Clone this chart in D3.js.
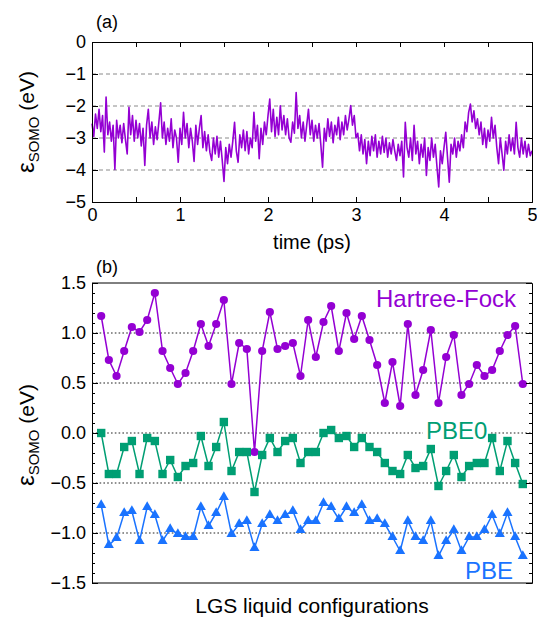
<!DOCTYPE html>
<html>
<head>
<meta charset="utf-8">
<script src="https://cdn.jsdelivr.net/npm/d3@7"></script>
<style>
  body { margin: 0; background: #fff; }
  text { font-family: "Liberation Sans", Arial, Helvetica, sans-serif; }
</style>
</head>
<body>
<svg id="chart" width="537" height="618"></svg>
<script>
// ---- Panel (a): SOMO energy along the MD trajectory (eV), sampled every 0.02 ps ----
const timeStep = 0.02;
const somoTrace = [
  -2.55, -2.95, -2.25, -2.70, -2.10, -2.80, -2.30, -3.44, -1.72, -2.90,
  -2.50, -3.10, -2.60, -3.98, -2.45, -3.00, -2.60, -3.15, -2.55, -3.05,
  -3.50, -2.04, -2.90, -2.30, -3.10, -2.45, -3.00, -2.55, -3.25, -2.70,
  -3.86, -2.60, -2.10, -3.00, -2.50, -3.20, -2.65, -3.05, -2.50, -1.90,
  -3.00, -2.50, -3.20, -2.70, -3.10, -2.40, -3.30, -2.75, -3.00, -3.76,
  -2.70, -3.20, -2.20, -3.00, -2.55, -3.30, -2.70, -3.10, -3.73, -2.60,
  -3.20, -2.70, -2.30, -3.30, -2.80, -3.40, -2.90, -3.45, -3.70, -3.00,
  -3.50, -2.95, -3.60, -3.10, -3.70, -4.36, -3.30, -3.80, -3.20, -3.60,
  -3.10, -2.51, -3.40, -3.76, -2.90, -3.30, -2.75, -3.40, -2.80, -3.50,
  -3.00, -3.30, -2.20, -3.10, -2.60, -3.65, -2.70, -3.20, -2.50, -2.90,
  -2.30, -1.78, -2.80, -2.10, -2.95, -2.35, -2.90, -1.99, -2.75, -2.30,
  -2.90, -2.40, -3.00, -3.13, -2.50, -2.85, -1.58, -2.70, -2.30, -3.00,
  -2.50, -3.10, -2.60, -2.10, -2.90, -2.45, -3.10, -2.60, -3.00, -2.55,
  -3.20, -3.91, -2.70, -3.10, -2.40, -2.95, -2.50, -3.15, -2.60, -2.90,
  -2.35, -3.05, -2.50, -2.90, -2.30, -2.75, -2.40, -1.99, -2.60, -2.30,
  -3.00, -2.85, -3.40, -2.90, -3.50, -3.05, -3.80, -3.10, -3.55, -2.95,
  -3.40, -2.90, -3.60, -3.10, -3.50, -2.95, -3.45, -3.00, -3.60, -3.15,
  -3.50, -3.05, -3.40, -3.70, -3.20, -3.55, -3.10, -4.22, -2.51, -3.30,
  -3.60, -3.00, -3.70, -2.60, -3.50, -3.10, -3.80, -3.20, -3.60, -3.00,
  -4.17, -3.30, -3.70, -3.00, -3.60, -3.20, -3.90, -4.53, -3.40, -3.80,
  -3.30, -2.82, -3.60, -4.38, -3.20, -3.50, -3.00, -3.60, -3.10, -3.40,
  -2.90, -3.30, -2.50, -2.80, -2.20, -1.94, -2.50, -2.15, -2.70, -2.40,
  -2.90, -2.50, -3.20, -2.70, -3.30, -2.75, -3.10, -2.35, -3.00, -2.60,
  -3.30, -3.80, -3.00, -3.50, -4.01, -3.10, -3.50, -2.90, -3.40, -3.00,
  -3.50, -2.51, -3.30, -3.60, -3.00, -3.50, -3.10, -3.60, -3.20, -3.55,
  -3.40
];
const timeTicks = [0, 1, 2, 3, 4, 5];
const energyTicksA = [0, -1, -2, -3, -4, -5];
const gridLinesA = [-1, -2, -3, -4];

// ---- Panel (b): SOMO energy of 56 liquid configurations, three functionals (eV) ----
const hartreeFock = [
  1.17, 0.73, 0.57, 0.82, 1.06, 1.01, 1.13, 1.40, 0.82, 0.65,
  0.49, 0.60, 0.82, 1.09, 0.87, 1.09, 1.33, 0.49, 0.90, 0.84,
  -0.19, 0.82, 1.21, 0.84, 0.87, 0.90, 0.57, 1.13, 0.76, 1.11,
  1.27, 0.82, 1.20, 0.94, 1.17, 0.93, 0.68, 0.30, 0.71, 0.27,
  1.09, 0.38, 0.63, 1.03, 0.30, 0.76, 0.98, 0.38, 0.49, 0.68,
  0.57, 0.63, 0.82, 0.98, 1.07, 0.49
];
const pbe0 = [
  0.00, -0.41, -0.41, -0.14, -0.08, -0.41, -0.05, -0.08, -0.41, -0.27,
  -0.44, -0.33, -0.30, -0.03, -0.33, -0.14, 0.11, -0.38, -0.19, -0.19,
  -0.59, -0.22, -0.05, -0.19, -0.08, -0.05, -0.30, -0.19, -0.19, 0.00,
  0.03, -0.05, -0.03, -0.14, -0.05, -0.14, -0.19, -0.30, -0.38, -0.41,
  -0.22, -0.35, -0.33, -0.16, -0.53, -0.38, -0.22, -0.44, -0.33, -0.30,
  -0.30, -0.05, -0.38, -0.08, -0.30, -0.51
];
const pbe = [
  -0.72, -1.12, -1.05, -0.80, -0.78, -1.08, -0.74, -0.82, -1.08, -0.96,
  -1.01, -1.04, -1.04, -0.74, -0.93, -0.80, -0.64, -1.01, -0.91, -0.88,
  -1.15, -0.91, -0.82, -0.88, -0.82, -0.78, -0.97, -0.88, -0.88, -0.70,
  -0.74, -0.86, -0.74, -0.80, -0.72, -0.88, -0.86, -0.91, -1.04, -1.18,
  -0.88, -1.04, -1.08, -0.88, -1.23, -1.08, -0.97, -1.18, -1.04, -1.04,
  -0.97, -0.82, -1.01, -0.80, -1.04, -1.23
];
const energyTicksB = [1.5, 1.0, 0.5, 0.0, -0.5, -1.0, -1.5];
const gridLinesB = [1.0, 0.5, 0.0, -0.5, -1.0];

const colors = { hf: "#9400d3", pbe0: "#009e73", pbe: "#1a73ff" };

const svg = d3.select("#chart");

// ================= Panel (a) =================
const ax = { left: 92, right: 532, top: 42, bottom: 202 };
const xA = d3.scaleLinear().domain([0, 5]).range([ax.left, ax.right]);
const yA = d3.scaleLinear().domain([0, -5]).range([ax.top, ax.bottom]);

const gA = svg.append("g");

gA.selectAll("line.grid").data(gridLinesA).join("line")
  .attr("x1", ax.left).attr("x2", ax.right)
  .attr("y1", d => yA(d)).attr("y2", d => yA(d))
  .attr("stroke", "#8a8a8a").attr("stroke-width", 1)
  .attr("stroke-dasharray", "4,3");

gA.append("path")
  .datum(somoTrace)
  .attr("fill", "none")
  .attr("stroke", colors.hf)
  .attr("stroke-width", 1.6)
  .attr("stroke-linejoin", "round")
  .attr("d", d3.line().x((d, i) => xA(i * timeStep)).y(d => yA(d)));

// signed integers with a proper minus sign
const fmtA = d => (d < 0 ? "\u2212" : "") + Math.abs(d);
gA.append("g").attr("transform", `translate(0,${ax.bottom})`)
  .call(d3.axisBottom(xA).tickValues(d3.range(0, 5.01, 0.5)).tickSize(-5).tickPadding(6)
        .tickFormat(d => Number.isInteger(d) ? String(d) : ""));
gA.append("g").attr("transform", `translate(0,${ax.top})`)
  .call(d3.axisTop(xA).tickValues(d3.range(0, 5.01, 0.5)).tickSize(-5).tickFormat(""));
gA.append("g").attr("transform", `translate(${ax.left},0)`)
  .call(d3.axisLeft(yA).tickValues(energyTicksA).tickSize(-6).tickPadding(6).tickFormat(fmtA));
gA.append("g").attr("transform", `translate(${ax.right},0)`)
  .call(d3.axisRight(yA).tickValues(energyTicksA).tickSize(-6).tickFormat(""));

gA.append("text").attr("x", 96).attr("y", 28).attr("font-size", 18).text("(a)");
gA.append("text").attr("x", (ax.left + ax.right) / 2).attr("y", 249)
  .attr("text-anchor", "middle").attr("font-size", 20).text("time (ps)");

// ================= Panel (b) =================
const bx = { left: 92, right: 532, top: 283, bottom: 583 };
const xB = d3.scaleLinear().domain([-1.2, 56.2]).range([bx.left, bx.right]);
const yB = d3.scaleLinear().domain([1.5, -1.5]).range([bx.top, bx.bottom]);

const gB = svg.append("g");

gB.selectAll("line.grid").data(gridLinesB).join("line")
  .attr("x1", bx.left).attr("x2", bx.right)
  .attr("y1", d => yB(d)).attr("y2", d => yB(d))
  .attr("stroke", "#222").attr("stroke-width", 1.1)
  .attr("stroke-dasharray", "1.6,2.2");

// label backdrop for PBE0 sits above the grid, below the data
const pbe0Backdrop = gB.append("rect").attr("fill", "#fff");

const lineB = d3.line().x((d, i) => xB(i)).y(d => yB(d));

function drawSeries(values, color) {
  gB.append("path").datum(values)
    .attr("fill", "none").attr("stroke", color).attr("stroke-width", 1.5)
    .attr("d", lineB);
}
drawSeries(hartreeFock, colors.hf);
drawSeries(pbe0, colors.pbe0);
drawSeries(pbe, colors.pbe);

gB.selectAll("circle.hf").data(hartreeFock).join("circle")
  .attr("cx", (d, i) => xB(i)).attr("cy", d => yB(d)).attr("r", 4.1)
  .attr("fill", colors.hf);
gB.selectAll("rect.pbe0").data(pbe0).join("rect")
  .attr("x", (d, i) => xB(i) - 4.2).attr("y", d => yB(d) - 4.2)
  .attr("width", 8.4).attr("height", 8.4)
  .attr("fill", colors.pbe0);
const tri = d3.symbol().type(d3.symbolTriangle).size(44);
gB.selectAll("path.pbe").data(pbe).join("path")
  .attr("transform", (d, i) => `translate(${xB(i)},${yB(d)})`)
  .attr("d", tri).attr("fill", colors.pbe);

// axes: minor ticks every 0.1, labelled major ticks every 0.5
const minorB = d3.range(-15, 16).map(v => v / 10).filter(v => !energyTicksB.includes(v));
const fmtB = d => (d < 0 ? "\u2212" : "") + Math.abs(d).toFixed(1);
gB.append("g").attr("transform", `translate(${bx.left},0)`)
  .call(d3.axisLeft(yB).tickValues(minorB).tickSize(-3).tickFormat(""))
  .call(g => g.select(".domain").remove());
gB.append("g").attr("transform", `translate(${bx.right},0)`)
  .call(d3.axisRight(yB).tickValues(minorB).tickSize(-3).tickFormat(""))
  .call(g => g.select(".domain").remove());
gB.append("g").attr("transform", `translate(${bx.left},0)`)
  .call(d3.axisLeft(yB).tickValues(energyTicksB).tickSize(-6).tickPadding(6).tickFormat(fmtB));
gB.append("g").attr("transform", `translate(${bx.right},0)`)
  .call(d3.axisRight(yB).tickValues(energyTicksB).tickSize(-6).tickFormat(""));
gB.append("line").attr("x1", bx.left).attr("x2", bx.right)
  .attr("y1", bx.top).attr("y2", bx.top).attr("stroke", "#000");
gB.append("line").attr("x1", bx.left).attr("x2", bx.right)
  .attr("y1", bx.bottom).attr("y2", bx.bottom).attr("stroke", "#000");

// series labels
const pbe0Label = gB.append("text").attr("x", 426).attr("y", 439)
  .attr("font-size", 24).attr("fill", colors.pbe0).text("PBE0");
const bb = pbe0Label.node().getBBox();
pbe0Backdrop.attr("x", bb.x - 3).attr("y", bb.y + 2)
  .attr("width", bb.width + 6).attr("height", bb.height - 4);
gB.append("text").attr("x", 376).attr("y", 307)
  .attr("font-size", 24).attr("fill", colors.hf).text("Hartree-Fock");
gB.append("text").attr("x", 465).attr("y", 579)
  .attr("font-size", 24).attr("fill", colors.pbe).text("PBE");

gB.append("text").attr("x", 96).attr("y", 273).attr("font-size", 18).text("(b)");
gB.append("text").attr("x", (bx.left + bx.right) / 2).attr("y", 613)
  .attr("text-anchor", "middle").attr("font-size", 21).text("LGS liquid configurations");

// shared axis styling
svg.selectAll(".tick text").attr("font-size", 18).attr("fill", "#000")
  .style("font-family", "'Liberation Sans', Arial, sans-serif");
svg.selectAll(".domain, .tick line").attr("stroke", "#000");

// y-axis titles: ε with subscript SOMO
function yTitle(cx, cy) {
  const t = svg.append("text")
    .attr("transform", `translate(${cx},${cy}) rotate(-90)`)
    .attr("text-anchor", "middle").attr("font-size", 21);
  t.append("tspan").attr("font-size", 24).text("ε");
  t.append("tspan").attr("font-size", 15).attr("dy", 5).text("SOMO");
  t.append("tspan").attr("dy", -5).text(" (eV)");
}
yTitle(34, 122);
yTitle(34, 435);
</script>
</body>
</html>
